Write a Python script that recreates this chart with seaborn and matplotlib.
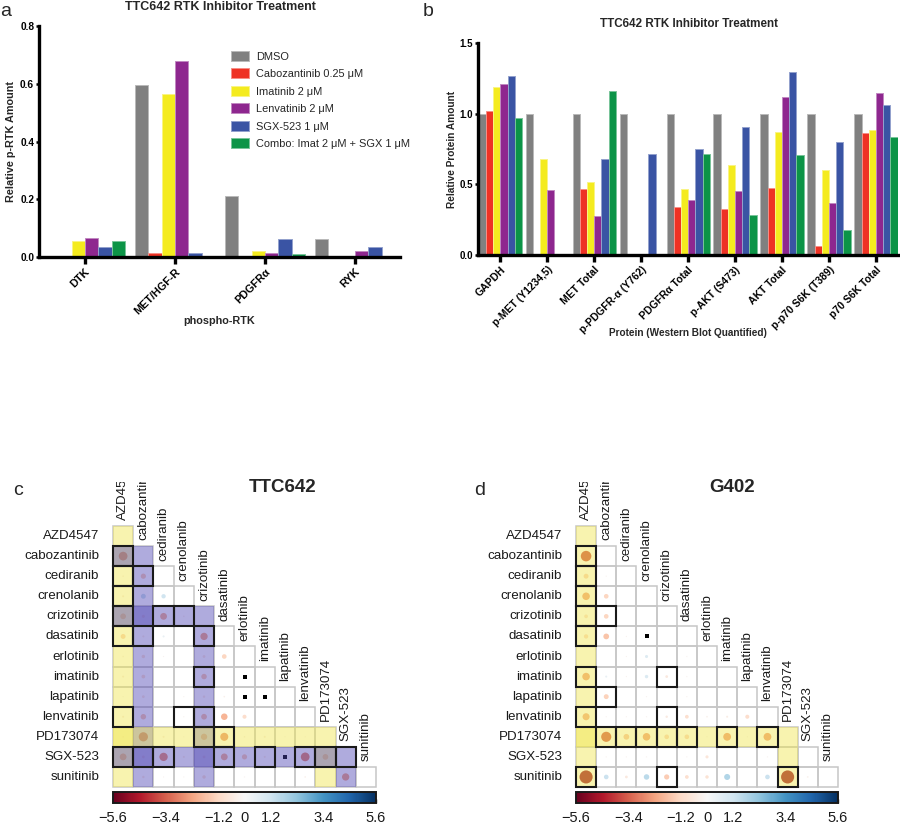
import numpy as np
import pandas as pd
import matplotlib
matplotlib.use("Agg")
import matplotlib.pyplot as plt
import seaborn as sns
from matplotlib.patches import Rectangle
from matplotlib.colors import Normalize, to_rgb
import matplotlib.cm as cm

sns.set_theme(style="white")
plt.rcParams["font.family"] = ["Liberation Sans", "DejaVu Sans"]
plt.rcParams["axes.unicode_minus"] = True

# ---------------- panel a data ----------------
treatments = ["DMSO", "Cabozantinib 0.25 μM", "Imatinib 2 μM", "Lenvatinib 2 μM",
              "SGX-523 1 μM", "Combo: Imat 2 μM + SGX 1 μM"]
treatment_colors = ["#808080", "#EE3224", "#F4EB1F", "#8E278F", "#3A54A4", "#0C9447"]

rtk_categories = ["DTK", "MET/HGF-R", "PDGFRα", "RYK"]
rtk_dmso = [0.0, 0.594, 0.211, 0.063]
rtk_cabo = [0.0, 0.013, 0.001, 0.002]
rtk_imat = [0.055, 0.565, 0.020, 0.002]
rtk_lenv = [0.065, 0.680, 0.014, 0.022]
rtk_sgx = [0.035, 0.015, 0.061, 0.033]
rtk_combo = [0.054, 0.0, 0.010, 0.0]
rtk_yticks = [0.0, 0.2, 0.4, 0.6, 0.8]

# ---------------- panel b data ----------------
protein_categories = ["GAPDH", "p-MET (Y1234,5)", "MET Total", "p-PDGFR-α (Y762)",
                      "PDGFRα Total", "p-AKT (S473)", "AKT Total",
                      "p-p70 S6K (T389)", "p70 S6K Total"]
prot_dmso = [1.0, 1.0, 1.0, 1.0, 1.0, 1.0, 1.0, 1.0, 1.0]
prot_cabo = [1.02, 0.0, 0.465, 0.0, 0.338, 0.326, 0.475, 0.064, 0.862]
prot_imat = [1.186, 0.676, 0.517, 0.0, 0.468, 0.635, 0.869, 0.602, 0.886]
prot_lenv = [1.207, 0.458, 0.276, 0.0, 0.387, 0.456, 1.117, 0.371, 1.146]
prot_sgx = [1.266, 0.0, 0.680, 0.718, 0.749, 0.907, 1.292, 0.796, 1.058]
prot_combo = [0.969, 0.0, 1.162, 0.0, 0.713, 0.283, 0.706, 0.180, 0.834]
prot_yticks = [0.0, 0.5, 1.0, 1.5]

# ---------------- panels c/d data ----------------
drugs = ["AZD4547", "cabozantinib", "cediranib", "crenolanib", "crizotinib",
         "dasatinib", "erlotinib", "imatinib", "lapatinib", "lenvatinib",
         "PD173074", "SGX-523", "sunitinib"]

ttc642_values = [
    [0],
    [-2.8, 0],
    [-0.3, -1.4, 0],
    [-0.4, 1.3, 1.1, 0],
    [-1.6, -0.7, -2.0, -0.3, 0],
    [-1.3, -0.4, 0.4, 0, -2.2, 0],
    [-0.3, -0.8, -0.2, 0, -0.6, -1.2, 0],
    [-0.4, -0.9, 0, 0, -1.5, 0, 0, 0],
    [-0.2, -0.6, 0, -0.2, -0.5, -0.3, 0, 0, 0],
    [-0.4, -1.5, 0, -0.2, -1.6, -1.9, -1.0, 0, 0, 0],
    [-0.3, -3.0, -0.4, -0.2, -1.8, -2.5, -0.3, -0.4, -0.2, -0.2, 0],
    [-2.0, -0.6, -2.6, -0.4, -0.6, -2.0, -1.4, -0.4, 0, -2.8, -1.6, 0],
    [0, -0.5, -0.2, -0.2, -0.8, 0, -0.2, 0, 0, -0.3, 0, -2.2, 0],
]
ttc642_highlight = ["AZD4547", "cabozantinib", "crizotinib", "PD173074", "SGX-523"]
ttc642_highlight_kind = ["yellow", "purple", "purple", "yellow", "purple"]
ttc642_boxes = [(1, 0), (2, 0), (2, 1), (3, 0), (4, 0), (4, 2), (4, 3), (5, 0), (5, 1),
                (5, 4), (7, 4), (9, 0), (9, 3), (9, 4), (10, 4), (10, 5), (11, 0),
                (11, 1), (11, 2), (11, 5), (11, 7), (11, 9), (11, 10), (11, 11)]
ttc642_na = [(7, 6), (8, 6), (8, 7), (11, 8)]

g402_values = [
    [0],
    [-3.6, 0],
    [-1.3, -0.2, 0],
    [-2.3, -1.2, 0, 0],
    [-0.9, -1.2, 0, 0, 0],
    [-1.1, -1.6, -0.2, 0, 0, 0],
    [0, 0, -0.2, 0.7, 0, -0.2, 0],
    [-2.3, 0.4, -0.2, 0.8, -0.6, -0.2, 0, 0],
    [0, -1.3, 0, -0.2, 0, -0.2, 0, 0, 0],
    [-2.1, -0.2, -0.2, -0.2, -0.5, -0.9, -0.3, -0.4, -1.0, 0],
    [0, -3.4, -1.6, -2.3, -1.2, -1.2, -0.2, -2.4, -0.2, -2.4, 0],
    [0, -0.2, -0.2, -0.2, 0, -0.2, -0.7, 0, 0, -0.2, 0, 0],
    [-4.8, 1.2, -0.6, 1.5, -1.4, -0.9, -0.8, 1.7, 0, 1.2, -4.8, -0.3, 0],
]
g402_highlight = ["AZD4547", "PD173074"]
g402_highlight_kind = ["yellow", "yellow"]
g402_boxes = [(1, 0), (2, 0), (3, 0), (4, 0), (4, 1), (5, 0), (7, 0), (7, 4), (8, 1),
              (9, 0), (9, 4), (10, 1), (10, 2), (10, 3), (10, 4), (10, 5), (10, 7),
              (10, 9), (12, 0), (12, 4), (12, 10)]
g402_na = [(5, 3)]

scale_limit = 5.6
cbar_ticks = list(np.linspace(-5.6, 5.6, 11))
cbar_labels = ["−5.6", "", "−3.4", "", "−1.2", "0", "1.2", "", "3.4", "", "5.6"]

# ---------------- figure ----------------
W, H = 900, 825
fig = plt.figure(figsize=(9, 8.25), dpi=100)


def px_axes(x0, y0, x1, y1):
    return fig.add_axes([x0 / W, 1 - y1 / H, (x1 - x0) / W, (y1 - y0) / H])


def lighten(c, f=0.45):
    r = np.array(to_rgb(c))
    return tuple(r + (1 - r) * f)


def draw_bars(ax, cats, series, width, xlim, ylim, yticks, ytick_fs, xtick_fs, legend):
    rows = []
    for t, vals in zip(treatments, series):
        for c, v in zip(cats, vals):
            rows.append({"cat": c, "value": v, "treatment": t})
    df = pd.DataFrame(rows)
    sns.barplot(data=df, x="cat", y="value", hue="treatment", order=cats,
                hue_order=treatments, palette=treatment_colors, saturation=1,
                width=width, errorbar=None, ax=ax, legend=legend)
    for p in ax.patches:
        p.set_edgecolor(lighten(p.get_facecolor()))
        p.set_linewidth(0.7)
    ax.set_xlim(*xlim)
    ax.set_ylim(*ylim)
    ax.set_yticks(yticks)
    ax.set_yticklabels([f"{v:.1f}" for v in yticks], fontweight="bold", fontsize=ytick_fs)
    ax.set_xticks(range(len(cats)))
    ax.set_xticklabels(cats, rotation=45, ha="right", rotation_mode="anchor",
                       fontweight="bold", fontsize=xtick_fs)
    sns.despine(ax=ax)
    for s in ["left", "bottom"]:
        ax.spines[s].set_linewidth(2.4)
        ax.spines[s].set_color("black")
    ax.tick_params(axis="y", left=True, length=2.5, width=1.8, pad=1, colors="black")
    ax.tick_params(axis="x", bottom=True, length=5, width=2.4, pad=2, colors="black")
    ax.grid(False)


# panel a
ax_a = px_axes(39, 26, 400, 257)
draw_bars(ax_a, rtk_categories,
          [rtk_dmso, rtk_cabo, rtk_imat, rtk_lenv, rtk_sgx, rtk_combo],
          0.89, (-0.51, 3.5), (0, 0.8), rtk_yticks, 7.3, 7.8, True)
ax_a.set_ylabel("Relative p-RTK Amount", fontweight="bold", fontsize=7.8, labelpad=3)
ax_a.set_xlabel("phospho-RTK", fontweight="bold", fontsize=7.8)
ax_a.xaxis.set_label_coords(0.5, -0.255)
handles, labels = ax_a.get_legend_handles_labels()
if ax_a.get_legend() is not None:
    ax_a.get_legend().remove()
ax_a.legend(handles, labels, loc="upper left",
            bbox_to_anchor=(231 / W, 1 - 51 / H), bbox_transform=fig.transFigure,
            frameon=False, fontsize=7.9, handlelength=1.65, handleheight=1.0,
            handletextpad=0.65, labelspacing=0.62, borderpad=0, borderaxespad=0)
fig.text(220 / W, 1 - 7 / H, "TTC642 RTK Inhibitor Treatment", ha="center", va="center",
         fontweight="bold", fontsize=9)

# panel b
ax_b = px_axes(478, 43, 898, 255)
draw_bars(ax_b, protein_categories,
          [prot_dmso, prot_cabo, prot_imat, prot_lenv, prot_sgx, prot_combo],
          0.92, (-0.475, 8.47), (0, 1.5), prot_yticks, 7.0, 7.5, False)
ax_b.set_ylabel("Relative Protein Amount", fontweight="bold", fontsize=7.3, labelpad=2)
ax_b.set_xlabel("Protein (Western Blot Quantified)", fontweight="bold", fontsize=7.2)
ax_b.xaxis.set_label_coords(0.5, -0.342)
fig.text(689 / W, 1 - 24 / H, "TTC642 RTK Inhibitor Treatment", ha="center", va="center",
         fontweight="bold", fontsize=8.4)

# panels c/d
norm = Normalize(-scale_limit, scale_limit)
overlay_colors = {"yellow": (0.94, 0.90, 0.31), "purple": (0.31, 0.27, 0.71)}
overlay_alpha = 0.45


def draw_corr(x0, x1, y_top_clip, y0, y1, values, hl, hl_kind, boxes, na_cells, title, title_x):
    n = len(drugs)
    cell_px = (y1 - y0) / n
    ax = px_axes(x0, y_top_clip, x1, y1)
    top = n - (y1 - y_top_clip) / cell_px
    # circles
    recs = []
    for i, row in enumerate(values):
        for j, v in enumerate(row):
            if v != 0:
                recs.append({"x": j + 0.5, "y": i + 0.5, "v": v, "s": abs(v) ** 1.5})
    df = pd.DataFrame(recs)
    sns.scatterplot(data=df, x="x", y="y", hue="v", palette="RdBu", hue_norm=norm,
                    size="s", sizes=(0, 112), size_norm=(0, scale_limit ** 1.5),
                    linewidth=0, legend=False, ax=ax, zorder=2)
    if na_cells:
        dna = pd.DataFrame({"x": [c + 0.5 for r, c in na_cells],
                            "y": [r + 0.5 for r, c in na_cells]})
        sns.scatterplot(data=dna, x="x", y="y", marker="s", color="black", s=9,
                        linewidth=0, legend=False, ax=ax, zorder=2)
    # grid
    for i in range(n):
        for j in range(i + 1):
            ax.add_patch(Rectangle((j, i), 1, 1, fill=False, edgecolor="#c6c6c6",
                                   lw=1.1, zorder=2.5, clip_on=False))
    # highlight overlays
    for name, kind in zip(hl, hl_kind):
        k = drugs.index(name)
        col = overlay_colors[kind]
        if k > 0:
            ax.add_patch(Rectangle((0, k), k, 1, facecolor=col, edgecolor="none",
                                   alpha=overlay_alpha, zorder=3, clip_on=False))
        ax.add_patch(Rectangle((k, k), 1, n - k, facecolor=col, edgecolor="none",
                               alpha=overlay_alpha, zorder=3, clip_on=False))
    # significance boxes
    for (r, c) in boxes:
        ax.add_patch(Rectangle((c, r), 1, 1, fill=False, edgecolor="#1a1a1a",
                               lw=1.5, zorder=5, clip_on=False))
    # labels
    for i, d in enumerate(drugs):
        ax.text(-0.69, i + 0.5, d, ha="right", va="center", fontsize=9.6,
                color="#1a1a1a", clip_on=False)
        ax.text(i + 0.5, i - 0.28, d, ha="center", va="bottom", rotation=90,
                fontsize=9.6, color="#1a1a1a", clip_on=True)
    ax.set_xlim(0, n)
    ax.set_ylim(n, top)
    ax.set_xlabel("")
    ax.set_ylabel("")
    ax.set_axis_off()
    # colorbar
    cax = px_axes(x0, 792, x1, 803)
    cb = fig.colorbar(cm.ScalarMappable(norm=norm, cmap="RdBu"), cax=cax,
                      orientation="horizontal")
    cb.set_ticks(cbar_ticks)
    cb.set_ticklabels(cbar_labels)
    cax.tick_params(axis="x", bottom=True, direction="in", length=3, width=1,
                    labelsize=10.5, pad=6, colors="#1a1a1a")
    cb.outline.set_linewidth(1.4)
    cb.outline.set_edgecolor("#1a1a1a")
    fig.text(title_x / W, 1 - 488 / H, title, ha="center", va="center",
             fontweight="bold", fontsize=13.5)


draw_corr(113, 376, 482, 526, 787, ttc642_values, ttc642_highlight, ttc642_highlight_kind,
          ttc642_boxes, ttc642_na, "TTC642", 283)
draw_corr(576, 838, 482, 526, 787, g402_values, g402_highlight, g402_highlight_kind,
          g402_boxes, g402_na, "G402", 732)

# panel letters
for letter, x, y in [("a", 6, 12), ("b", 428, 11), ("c", 18, 491), ("d", 480, 491)]:
    fig.text(x / W, 1 - y / H, letter, ha="center", va="center", fontsize=14)

fig.savefig("out.png", dpi=100)
